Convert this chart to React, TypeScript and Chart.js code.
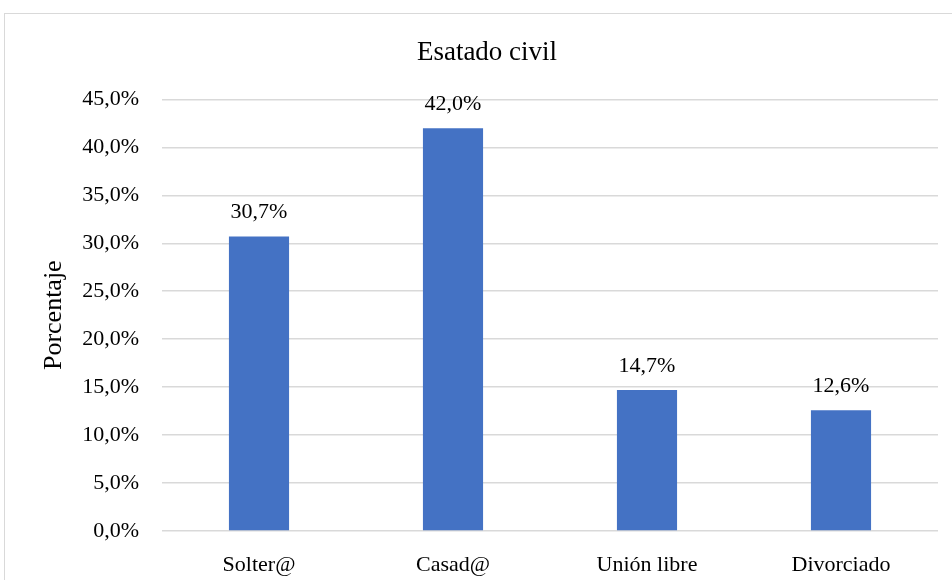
import React, { useEffect, useRef } from "react";
import { Chart, registerables } from "chart.js";

Chart.register(...registerables);

const categories = ["Solter@", "Casad@", "Unión libre", "Divorciado"];
const percentages = [30.7, 42.0, 14.7, 12.6];
const chartTitle = "Esatado civil";
const yAxisTitle = "Porcentaje";

const serif = "'Liberation Serif', 'Times New Roman', serif";
const barColor = "#4472C4";
const gridColor = "#d9d9d9";

const formatPercent = (v: number) => v.toFixed(1).replace(".", ",") + "%";

// Writes each bar's value above it
const valueLabels = {
  id: "valueLabels",
  afterDatasetsDraw(chart: any) {
    const { ctx } = chart;
    const meta = chart.getDatasetMeta(0);
    ctx.save();
    ctx.font = `22px ${serif}`;
    ctx.fillStyle = "#000";
    ctx.textAlign = "center";
    ctx.textBaseline = "middle";
    meta.data.forEach((bar: any, i: number) => {
      const v = chart.data.datasets[0].data[i] as number;
      ctx.fillText(formatPercent(v), bar.x, bar.y - 24);
    });
    ctx.restore();
  },
};

export default function App() {
  const canvasRef = useRef<HTMLCanvasElement>(null);

  useEffect(() => {
    if (!canvasRef.current) return;
    const chart = new Chart(canvasRef.current, {
      type: "bar",
      data: {
        labels: categories,
        datasets: [
          {
            data: percentages,
            backgroundColor: barColor,
            categoryPercentage: 1,
            barPercentage: 0.31,
          },
        ],
      },
      options: {
        responsive: false,
        animation: false,
        layout: { padding: { left: 22, right: 0, top: 0, bottom: 0 } },
        plugins: {
          legend: { display: false },
          tooltip: { enabled: false },
          title: {
            display: true,
            text: chartTitle,
            color: "#000",
            font: { family: serif, size: 27, weight: "normal" },
            padding: { top: 37, bottom: 30 },
          },
        },
        scales: {
          x: {
            grid: { display: false },
            border: { display: false },
            ticks: {
              color: "#000",
              font: { family: serif, size: 22 },
              padding: 13,
            },
            afterFit: (scale: any) => {
              scale.height = 49;
            },
          },
          y: {
            min: 0,
            max: 45,
            border: { display: false },
            grid: { color: gridColor, lineWidth: 1.5, drawTicks: false },
            ticks: {
              stepSize: 5,
              color: "#000",
              font: { family: serif, size: 22 },
              padding: 23,
              callback: (v: any) => formatPercent(Number(v)),
            },
            title: {
              display: true,
              text: yAxisTitle,
              color: "#000",
              font: { family: serif, size: 26 },
              padding: { top: 17, bottom: 0 },
            },
            afterFit: (scale: any) => {
              scale.width = 140;
            },
          },
          yRight: {
            position: "right",
            display: true,
            grid: { display: false },
            border: { display: false },
            ticks: { display: false },
            afterFit: (scale: any) => {
              scale.width = 14;
            },
          },
        },
      },
      plugins: [valueLabels],
    });
    return () => chart.destroy();
  }, []);

  return (
    <div
      style={{
        position: "absolute",
        left: 0,
        top: 0,
        width: 952,
        height: 580,
        overflow: "hidden",
        background: "#fff",
      }}
    >
      <div
        style={{
          position: "absolute",
          left: 4,
          top: 13,
          width: 1000,
          height: 1000,
          border: `1px solid ${gridColor}`,
        }}
      />
      <canvas
        ref={canvasRef}
        width={952}
        height={580}
        style={{ position: "absolute", left: 0, top: 0, width: 952, height: 580 }}
      />
    </div>
  );
}
